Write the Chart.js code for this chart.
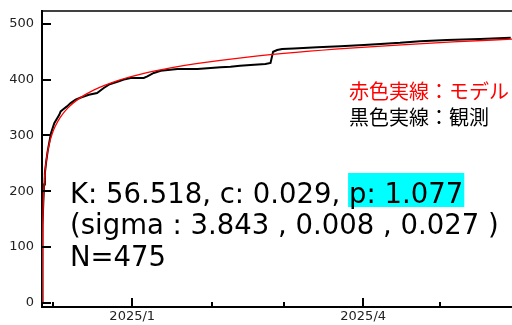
<!DOCTYPE html>
<html>
<head>
<meta charset="utf-8">
<script src="https://cdn.jsdelivr.net/npm/chart.js@4.4.1/dist/chart.umd.min.js"></script>
<style>
  html, body { margin: 0; padding: 0; background: #fff; }
  #wrap { width: 512px; height: 325px; }
</style>
</head>
<body>
<div id="wrap"><canvas id="omoriChart" width="512" height="325"></canvas></div>
<script>
// x values are days counted from 2024-12-01 00:00 (negative = late November)
const modelDay = [-4.05, -4.04, -4.02, -3.99, -3.95, -3.85, -3.75, -3.55, -3.3, -3.05,
  -2.55, -2.05, -1.05, -0.05, 0.95, 2.95, 5.95, 9.95, 15.95, 25.95,
  35.95, 45.95, 55.95, 75.95, 95.95, 115.95, 135.95, 155.95, 179.45];
const modelCount = [0, 21.7, 51.3, 79.7, 104.7, 141.8, 164.4, 193.2, 215.8, 231.6,
  253.6, 268.9, 290.1, 304.7, 315.9, 332.4, 349.4, 365.1, 381.3, 399.2,
  411.6, 421.0, 428.5, 440.3, 449.2, 456.3, 462.3, 467.5, 472.7];

const obsDay = [-4.05, -4.03, -4.0, -3.95, -3.85, -3.65, -3.35, -3.05, -2.55, -1.95,
  -0.66, 0.62, 2.57, 3.11, 3.89, 5.56, 7.0, 8.94, 11.0, 14.1,
  17.3, 19.9, 21.9, 25.8, 27.7, 30.4, 35.5, 36.9, 39.4, 42.1,
  48.6, 56.4, 61.6, 65.4, 69.3, 73.0, 77.1, 82.9, 84.9, 85.9,
  87.5, 89.4, 94.0, 103.1, 112.1, 121.2, 127.7, 135.4, 143.2, 153.6,
  166.6, 178.5];
const obsCount = [0, 40, 75, 105, 140, 180, 212, 232, 252, 272,
  304, 322, 337, 343, 346, 352, 358, 364, 368, 373,
  376, 385, 391, 397, 400, 403, 403, 406, 412, 416,
  419, 419, 421, 422, 423, 425, 426, 428, 430, 450,
  453, 455, 456, 458, 460, 462, 464, 466, 469, 471,
  473, 475];

const yTicks = [0, 100, 200, 300, 400, 500];
const monthDay = [0, 31, 62, 90, 121, 151];
const monthLabel = ["", "2025/1", "", "", "2025/4", ""];

const fitText = ["K: 56.518, c: 0.029, ", "p: 1.077"];
const sigmaText = "(sigma : 3.843 , 0.008 , 0.027 )";
const countText = "N=475";
const legendText = ["赤色実線：モデル", "黒色実線：観測"];

// inward tick marks and the top frame line
const frameTicks = {
  id: "frameTicks",
  afterDraw(chart) {
    const { ctx, chartArea, scales } = chart;
    ctx.save();
    ctx.strokeStyle = "#000";
    ctx.lineWidth = 2;
    scales.y.ticks.forEach((t) => {
      const y = Math.round(scales.y.getPixelForValue(t.value));
      ctx.beginPath();
      ctx.moveTo(chartArea.left, y);
      ctx.lineTo(chartArea.left + 9, y);
      ctx.stroke();
    });
    scales.x.ticks.forEach((t) => {
      const x = Math.round(scales.x.getPixelForValue(t.value));
      const len = monthLabel[monthDay.indexOf(t.value)] ? 9 : 5;
      ctx.beginPath();
      ctx.moveTo(x, chartArea.bottom);
      ctx.lineTo(x, chartArea.bottom - len);
      ctx.stroke();
    });
    ctx.lineWidth = 1.5;
    ctx.beginPath();
    ctx.moveTo(chartArea.left, chartArea.top);
    ctx.lineTo(chartArea.right, chartArea.top);
    ctx.stroke();
    ctx.restore();
  }
};

// fit parameters and line legend
const notes = {
  id: "notes",
  afterDraw(chart) {
    const { ctx } = chart;
    ctx.save();
    ctx.font = '27.5px "DejaVu Sans"';
    ctx.textBaseline = "alphabetic";
    const x0 = 70;
    const w1 = ctx.measureText(fitText[0]).width;
    const w2 = ctx.measureText(fitText[1]).width;
    ctx.fillStyle = "#00ffff";
    ctx.fillRect(x0 + w1 - 1, 173, w2 + 2, 34);
    ctx.fillStyle = "#000";
    ctx.fillText(fitText[0], x0, 203);
    ctx.fillText(fitText[1], x0 + w1, 203);
    ctx.fillText(sigmaText, x0, 234);
    ctx.fillText(countText, x0, 266);

    ctx.font = '20px "Noto Sans CJK JP"';
    ctx.textBaseline = "middle";
    ctx.fillStyle = "#ff0000";
    ctx.fillText(legendText[0], 349, 91);
    ctx.fillStyle = "#000";
    ctx.fillText(legendText[1], 349, 117.5);
    ctx.restore();
  }
};

const tickFont = { family: "DejaVu Sans", size: 13 };

new Chart(document.getElementById("omoriChart"), {
  type: "line",
  data: {
    datasets: [
      {
        label: "モデル",
        data: modelDay.map((d, i) => ({ x: d, y: modelCount[i] })),
        borderColor: "#ff0000",
        borderWidth: 1.3,
        pointRadius: 0,
        cubicInterpolationMode: "monotone",
        fill: false,
      },
      {
        label: "観測",
        data: obsDay.map((d, i) => ({ x: d, y: obsCount[i] })),
        borderColor: "#000",
        borderWidth: 2,
        pointRadius: 0,
        tension: 0,
        fill: false,
      },
    ],
  },
  options: {
    responsive: false,
    animation: false,
    events: [],
    layout: { padding: { top: 11, right: 0, bottom: 0, left: 0 } },
    plugins: { legend: { display: false }, tooltip: { enabled: false } },
    scales: {
      x: {
        type: "linear",
        min: -4.16,
        max: 179,
        grid: { display: false, drawTicks: false },
        border: { display: true, color: "#000", width: 2 },
        afterBuildTicks: (s) => { s.ticks = monthDay.map((v) => ({ value: v })); },
        afterFit: (s) => { s.height = 18; s.paddingLeft = 0; s.paddingRight = 0; },
        ticks: {
          autoSkip: false,
          maxRotation: 0,
          padding: 2,
          color: "#222",
          font: tickFont,
          callback: (v) => monthLabel[monthDay.indexOf(v)],
        },
      },
      y: {
        min: -7.5,
        max: 523,
        grid: { display: false, drawTicks: false },
        border: { display: true, color: "#000", width: 2 },
        afterBuildTicks: (s) => { s.ticks = yTicks.map((v) => ({ value: v })); },
        afterFit: (s) => { s.width = 42; s.paddingTop = 0; s.paddingBottom = 0; },
        ticks: { padding: 8, color: "#222", font: tickFont },
      },
    },
  },
  plugins: [frameTicks, notes],
});
</script>
</body>
</html>
